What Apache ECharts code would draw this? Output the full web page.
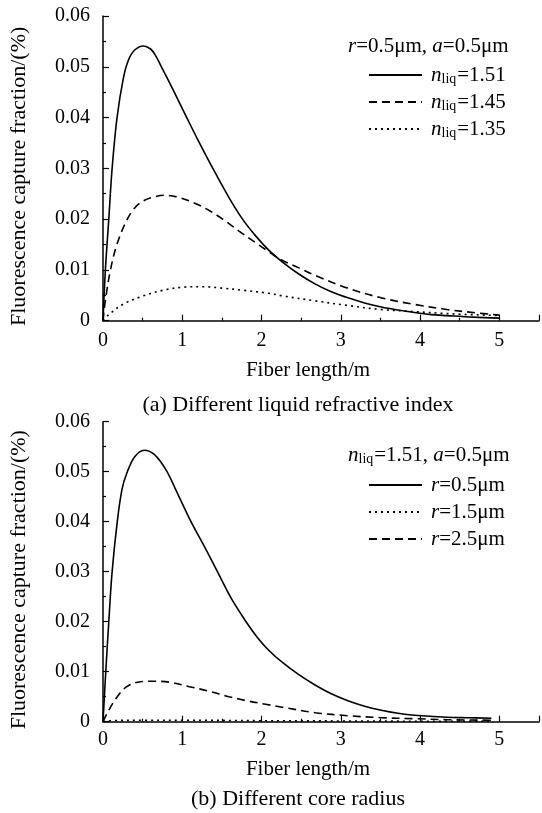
<!DOCTYPE html>
<html>
<head>
<meta charset="utf-8">
<script src="https://cdn.jsdelivr.net/npm/echarts@6/dist/echarts.min.js"></script>
<style>
html,body{margin:0;padding:0;background:#fff;}
#chart{width:542px;height:813px;}
</style>
</head>
<body>
<div id="chart"></div>
<script>
// ---- Data: (a) different liquid refractive index ----
const xA151 = [0, 0.03, 0.073, 0.115, 0.177, 0.26, 0.32, 0.4, 0.51, 0.6, 0.66, 0.73, 0.88, 1.05, 1.2, 1.385, 1.58, 1.76, 1.92, 2.09, 2.26, 2.47, 2.68, 2.88, 3.09, 3.3, 3.51, 3.72, 3.93, 4.14, 4.34, 4.67, 5.0];
const yA151 = [0, 0.01, 0.02, 0.03, 0.04, 0.048, 0.0513, 0.0533, 0.0541, 0.0535, 0.0523, 0.0502, 0.0456, 0.0402, 0.0355, 0.03, 0.0245, 0.02, 0.0168, 0.0139, 0.0116, 0.0092, 0.0072, 0.0057, 0.0045, 0.0035, 0.0027, 0.0021, 0.0016, 0.0012, 0.001, 0.0007, 0.0005];
const xA145 = [0, 0.03, 0.094, 0.177, 0.3, 0.4, 0.51, 0.65, 0.78, 0.95, 1.18, 1.35, 1.51, 1.72, 1.93, 2.1, 2.26, 2.47, 2.68, 3.09, 3.51, 3.93, 4.34, 4.67, 5.0];
const yA145 = [0, 0.004, 0.01, 0.0151, 0.0198, 0.0222, 0.0236, 0.0244, 0.0247, 0.0243, 0.023, 0.0216, 0.02, 0.0176, 0.0153, 0.0135, 0.0119, 0.0104, 0.0089, 0.0064, 0.0045, 0.0032, 0.0022, 0.0016, 0.0011];
const xA135 = [0, 0.073, 0.26, 0.51, 0.76, 1.01, 1.26, 1.51, 1.76, 2.09, 2.26, 2.68, 3.09, 3.51, 3.93, 4.34, 5.0];
const yA135 = [0, 0.0012, 0.0033, 0.0049, 0.006, 0.0066, 0.0067, 0.0064, 0.006, 0.0054, 0.0049, 0.0039, 0.003, 0.0022, 0.0018, 0.0014, 0.001];

// ---- Data: (b) different core radius ----
const xB05 = [0, 0.035, 0.073, 0.115, 0.18, 0.24, 0.3, 0.4, 0.52, 0.65, 0.8, 0.95, 1.11, 1.28, 1.45, 1.62, 1.8, 1.95, 2.09, 2.26, 2.47, 2.68, 2.88, 3.09, 3.3, 3.51, 3.72, 3.93, 4.34, 4.6, 4.9];
const yB05 = [0, 0.01, 0.02, 0.03, 0.04, 0.0465, 0.0497, 0.053, 0.0543, 0.0534, 0.0502, 0.0453, 0.04, 0.035, 0.0298, 0.0246, 0.0201, 0.0168, 0.0143, 0.0119, 0.0094, 0.0073, 0.0056, 0.0042, 0.0031, 0.0023, 0.0017, 0.0013, 0.0009, 0.0008, 0.0007];
const xB15 = [0, 0.1, 0.5, 1, 2, 3, 4, 4.9];
const yB15 = [0, 0.0002, 0.0003, 0.0003, 0.0002, 0.00015, 0.0001, 0.0001];
const xB25 = [0, 0.073, 0.18, 0.3, 0.47, 0.64, 0.84, 1.09, 1.34, 1.59, 1.84, 2.05, 2.26, 2.68, 3.09, 3.51, 3.93, 4.34, 4.9];
const yB25 = [0, 0.0023, 0.005, 0.007, 0.008, 0.0081, 0.0079, 0.007, 0.0061, 0.005, 0.0041, 0.0035, 0.0029, 0.0018, 0.0012, 0.0008, 0.0006, 0.0004, 0.0003];

// ---- Axis ticks ----
const xTicks = {min: 0, max: 5.5, interval: 1};
const yTicks = {min: 0, max: 0.06, interval: 0.01};

// ---- Text ----
const yName = 'Fluorescence capture fraction/(%)';
const xName = 'Fiber length/m';
const captionA = '(a) Different liquid refractive index';
const captionB = '(b) Different core radius';
const legendTitleA = '{i|r}=0.5μm, {i|a}=0.5μm';
const legendTitleB = '{i|n}{s|liq}=1.51, {i|a}=0.5μm';
const legendLabels = {
  'n1.51': '{i|n}{s|liq}=1.51',
  'n1.45': '{i|n}{s|liq}=1.45',
  'n1.35': '{i|n}{s|liq}=1.35',
  'r0.5': '{i|r}=0.5μm',
  'r1.5': '{i|r}=1.5μm',
  'r2.5': '{i|r}=2.5μm'
};

const zip = (xs, ys) => xs.map((x, i) => [x, ys[i]]);
const FONT = 'Liberation Serif';
const rich = {
  i: {fontStyle: 'italic', fontFamily: FONT, fontSize: 21, lineHeight: 22, color: '#000'},
  s: {fontFamily: FONT, fontSize: 14, lineHeight: 13, verticalAlign: 'bottom', color: '#000', padding: [0, 1, 0, 0]}
};

const chart = echarts.init(document.getElementById('chart'), null, {renderer: 'canvas'});

function makeX(gridIndex) {
  return {
    type: 'value', gridIndex, min: xTicks.min, max: xTicks.max, interval: xTicks.interval,
    name: xName, nameLocation: 'middle', nameGap: gridIndex === 0 ? 39 : 37,
    nameTextStyle: {fontFamily: FONT, fontSize: 21, color: '#000', padding: [0, 26, 0, 0]},
    axisLine: {show: true, lineStyle: {color: '#000', width: 1.5}},
    axisTick: {show: true, inside: true, length: 6, lineStyle: {color: '#000', width: 1.2}},
    minorTick: {show: true, splitNumber: 2, length: 3, lineStyle: {color: '#000', width: 1.2}},
    axisLabel: {fontFamily: FONT, fontSize: 20, color: '#000', margin: gridIndex === 0 ? 10 : 8,
      formatter: v => (v > 5 ? '' : String(v))},
    splitLine: {show: false}
  };
}
function makeY(gridIndex) {
  return {
    type: 'value', gridIndex, min: yTicks.min, max: yTicks.max, interval: yTicks.interval,
    name: yName, nameLocation: 'middle', nameRotate: 90, nameGap: 73,
    nameTextStyle: {fontFamily: FONT, fontSize: 22, color: '#000', padding: [0, 16, 0, 0]},
    axisLine: {show: true, lineStyle: {color: '#000', width: 1.5}},
    axisTick: {show: true, inside: true, length: 6, lineStyle: {color: '#000', width: 1.2}},
    minorTick: {show: true, splitNumber: 2, length: 3, lineStyle: {color: '#000', width: 1.2}},
    axisLabel: {fontFamily: FONT, fontSize: 20, color: '#000', margin: 13,
      formatter: v => (v === 0 ? '0' : v.toFixed(2))},
    splitLine: {show: false}
  };
}
const solid = {color: '#000', width: 1.6, type: 'solid'};
const dashed = {color: '#000', width: 1.6, type: [8, 5]};
const dotted = {color: '#000', width: 1.6, type: [2, 4]};
function line(name, idx, xs, ys, style) {
  return {
    name, type: 'line', xAxisIndex: idx, yAxisIndex: idx, data: zip(xs, ys),
    smooth: 0.35, symbol: 'none', showSymbol: false,
    lineStyle: style, itemStyle: {color: '#000'}, animation: false, silent: true
  };
}
function legend(top, data) {
  return {
    orient: 'vertical', left: 368, top, padding: 0, itemGap: 5,
    itemWidth: 53, itemHeight: 14,
    itemStyle: {opacity: 0, borderWidth: 0},
    data,
    formatter: n => legendLabels[n],
    textStyle: {fontFamily: FONT, fontSize: 21, color: '#000', lineHeight: 22, padding: [0, 0, 0, 4], rich}
  };
}
function ttl(text, left, top) {
  return {
    text, left, top, padding: 0,
    textStyle: {fontFamily: FONT, fontSize: 21, fontWeight: 'normal', color: '#000', lineHeight: 22, rich}
  };
}

chart.setOption({
  backgroundColor: '#fff',
  animation: false,
  grid: [
    {left: 102.5, top: 16, width: 440, height: 304.7},
    {left: 102.5, top: 421.7, width: 440, height: 300}
  ],
  xAxis: [makeX(0), makeX(1)],
  yAxis: [makeY(0), makeY(1)],
  title: [
    ttl(legendTitleA, 348, 35),
    ttl(legendTitleB, 348, 444),
    {text: captionA, left: 298, top: 394, padding: 0, textAlign: 'center',
      textStyle: {fontFamily: FONT, fontSize: 22, fontWeight: 'normal', color: '#000'}},
    {text: captionB, left: 298, top: 788, padding: 0, textAlign: 'center',
      textStyle: {fontFamily: FONT, fontSize: 22, fontWeight: 'normal', color: '#000'}}
  ],
  legend: [
    legend(64, ['n1.51', 'n1.45', 'n1.35']),
    legend(474, ['r0.5', 'r1.5', 'r2.5'])
  ],
  series: [
    line('n1.51', 0, xA151, yA151, solid),
    line('n1.45', 0, xA145, yA145, dashed),
    line('n1.35', 0, xA135, yA135, dotted),
    line('r0.5', 1, xB05, yB05, solid),
    line('r1.5', 1, xB15, yB15, dotted),
    line('r2.5', 1, xB25, yB25, dashed)
  ]
});
</script>
</body>
</html>
